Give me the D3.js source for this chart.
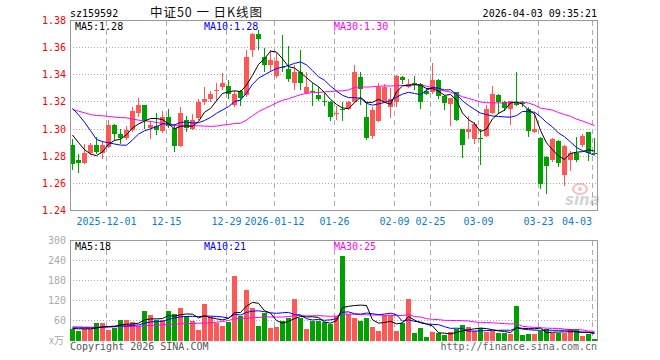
<!DOCTYPE html>
<html><head><meta charset="utf-8">
<script src="https://cdn.jsdelivr.net/npm/d3@7/dist/d3.min.js"></script>
<style>body{margin:0;background:#fff}svg{display:block}</style>
</head><body><svg id="c" width="660" height="360"></svg>
<script>
// ---------- data ----------
const dates = [
"2025-11-21","2025-11-24","2025-11-25","2025-11-26","2025-11-27","2025-11-28",
"2025-12-01","2025-12-02","2025-12-03","2025-12-04","2025-12-05",
"2025-12-08","2025-12-09","2025-12-10","2025-12-11","2025-12-12",
"2025-12-15","2025-12-16","2025-12-17","2025-12-18","2025-12-19",
"2025-12-22","2025-12-23","2025-12-24","2025-12-25","2025-12-26",
"2025-12-29","2025-12-30","2025-12-31",
"2026-01-05","2026-01-06","2026-01-07","2026-01-08","2026-01-09",
"2026-01-12","2026-01-13","2026-01-14","2026-01-15","2026-01-16",
"2026-01-19","2026-01-20","2026-01-21","2026-01-22","2026-01-23",
"2026-01-26","2026-01-27","2026-01-28","2026-01-29","2026-01-30",
"2026-02-02","2026-02-03","2026-02-04","2026-02-05","2026-02-06",
"2026-02-09","2026-02-10","2026-02-11","2026-02-12","2026-02-13",
"2026-02-24","2026-02-25","2026-02-26","2026-02-27",
"2026-03-02","2026-03-03","2026-03-04","2026-03-05","2026-03-06",
"2026-03-09","2026-03-10","2026-03-11","2026-03-12","2026-03-13",
"2026-03-16","2026-03-17","2026-03-18","2026-03-19","2026-03-20",
"2026-03-23","2026-03-24","2026-03-25","2026-03-26","2026-03-27",
"2026-03-30","2026-03-31","2026-04-01","2026-04-02","2026-04-03"];

const open = [1.288,1.277,1.275,1.282,1.288,1.282,1.287,1.303,1.296,1.293,1.299,1.312,1.318,1.301,1.302,1.299,1.309,1.301,1.288,1.307,1.300,1.308,1.320,1.322,1.328,1.331,1.332,1.318,1.328,
1.325,1.358,1.370,1.353,1.347,1.339,1.346,1.344,1.334,1.342,1.3265,1.328,1.325,1.321,1.320,1.312,1.3145,1.315,1.320,1.338,
1.309,1.295,1.306,1.320,1.316,1.320,1.338,1.331,1.3338,1.333,1.328,1.327,1.336,1.324,1.318,1.327,1.2997,1.298,1.2928,
1.2935,1.2948,1.3119,1.3251,1.3197,1.3143,1.3197,1.3197,1.3148,1.2977,1.2935,1.2791,1.2774,1.2913,1.2659,1.2774,1.2823,1.2879,1.2977,1.2825];
const high = [1.293,1.282,1.289,1.290,1.294,1.291,1.307,1.304,1.300,1.302,1.316,1.323,1.318,1.306,1.312,1.313,1.315,1.304,1.316,1.310,1.311,1.322,1.331,1.328,1.334,1.341,1.336,1.328,1.329,
1.358,1.371,1.373,1.360,1.358,1.356,1.369,1.361,1.347,1.358,1.342,1.334,1.331,1.3265,1.321,1.317,1.320,1.321,1.347,1.342,
1.320,1.316,1.334,1.333,1.330,1.340,1.339,1.337,1.339,1.334,1.330,1.349,1.337,1.325,1.323,1.3275,1.300,1.310,1.305,
1.300,1.318,1.332,1.326,1.321,1.321,1.3417,1.321,1.316,1.3124,1.294,1.280,1.2935,1.292,1.288,1.284,1.294,1.2965,1.298,1.2935];
const low = [1.270,1.268,1.274,1.281,1.282,1.278,1.286,1.291,1.289,1.292,1.298,1.309,1.300,1.293,1.296,1.297,1.301,1.283,1.287,1.298,1.299,1.307,1.318,1.320,1.321,1.329,1.322,1.316,1.317,
1.324,1.353,1.358,1.342,1.342,1.338,1.342,1.335,1.329,1.329,1.326,1.317,1.321,1.317,1.306,1.307,1.306,1.314,1.319,1.318,
1.292,1.293,1.305,1.319,1.308,1.316,1.333,1.330,1.329,1.315,1.325,1.326,1.322,1.314,1.3026,1.306,1.2786,1.293,1.289,
1.2733,1.294,1.311,1.311,1.313,1.3033,1.3168,1.316,1.294,1.297,1.2561,1.252,1.276,1.272,1.2581,1.269,1.276,1.287,1.2762,1.2806];
const close = [1.274,1.275,1.282,1.288,1.283,1.288,1.303,1.296,1.293,1.299,1.313,1.318,1.306,1.303,1.299,1.309,1.302,1.288,1.312,1.301,1.307,1.320,1.322,1.326,1.329,1.334,1.326,1.326,1.323,
1.353,1.370,1.366,1.347,1.351,1.350,1.345,1.337,1.342,1.334,1.331,1.327,1.322,1.3205,1.309,1.3122,1.314,1.320,1.342,1.329,
1.2935,1.314,1.331,1.331,1.322,1.339,1.336,1.3335,1.3336,1.320,1.326,1.336,1.324,1.3185,1.3226,1.306,1.2879,1.300,1.3038,
1.2933,1.3148,1.3258,1.3202,1.3153,1.3204,1.3178,1.318,1.2989,1.3001,1.2598,1.2725,1.2928,1.2754,1.2874,1.2823,1.2769,1.2948,1.2825,1.2823];

const volume = [36,29,36,36,52,52,32,38,61,61,56,43,88,76,61,61,88,79,97,73,59,32,109,71,54,43,56,193,74,
151,97,43,82,37,40,58,69,124,69,34,60,59,56,51,73,254,79,67,58,
67,40,29,76,76,29,54,124,22,37,10,25,22,16,25,34,46,40,30,
37,25,30,22,22,19,103,16,19,19,30,34,22,22,22,31,36,13,19,4];

// moving-average values at the left edge (window starts before the visible data)
const ma5Seed  = [1.2956,1.2900,1.2848,1.2816];
const ma10Seed = [1.3152,1.3105,1.3051,1.2988,1.2924,1.2907,1.2900,1.2890,1.2882];
const ma30Seed = [1.3144,1.3132,1.3120,1.3107,1.3100,1.3098,1.3093,1.3088,1.3085,1.3083,1.3073,1.3066,1.3061,1.3056,1.3049,1.3041,1.3032,1.3024,1.3024,1.3024,1.3024,1.3024,1.3022,1.3020,1.3022,1.3029,1.3034,1.3041,1.3043];
const volMa5Seed  = [36,35,35,35];
const volMa10Seed = [38,38,38,38,38,40,42,43,44];
const volMa30Seed = [41,41,40,40,40,40,40,41,41,42,42,43,44,45,46,47,48,49,50,51,51,52,52,53,55,57,60,65,67];

const priceTicks = [1.24,1.26,1.28,1.30,1.32,1.34,1.36,1.38];
const volTicks = [60,120,180,240,300];
const xTickDates  = ["2025-12-01","2025-12-15","2025-12-29","2026-01-12","2026-01-26","2026-02-09","2026-02-25","2026-03-09","2026-03-23","2026-04-03"];
const xTickLabels = ["2025-12-01","12-15","12-29","2026-01-12","01-26","02-09","02-25","03-09","03-23","04-03"];

const header = {code:"sz159592", title:"中证50 一 日K线图", time:"2026-04-03 09:35:21"};
const priceMaText = ["MA5:1.28","MA10:1.28","MA30:1.30"];
const volMaText = ["MA5:18","MA10:21","MA30:25"];

// ---------- drawing ----------
const svg = d3.select("#c");
const MONO = "'DejaVu Sans Mono', 'Liberation Mono', monospace";
const UP = "#ff5656", DOWN = "#00a000", FRAME = "#999", GRID = "#aaa";
const L = 70, R = 597;
const x = d3.scaleBand().domain(dates).range([L, L + 6 * dates.length]).paddingInner(0).paddingOuter(0);
const y = d3.scaleLinear().domain([1.24, 1.38]).range([210.5, 20.5]);
const yv = d3.scaleLinear().domain([0, 300]).range([340.5, 240.5]);
const mid = d => x(d) + 2.5;

function ma(arr, n, seed) {
  return arr.map((v, i) => i < n - 1 ? seed[i] : d3.mean(arr.slice(i - n + 1, i + 1)));
}

// header
svg.append("text").attr("x", 70).attr("y", 16.5).attr("font-family", MONO).attr("font-size", 10).attr("fill", "#000").text(header.code);
svg.append("text").attr("x", 150).attr("y", 17).attr("font-family", "'Noto Sans CJK SC', sans-serif").attr("font-size", 12.5)
  .attr("textLength", 112).attr("lengthAdjust", "spacing").attr("fill", "#111").text(header.title);
svg.append("text").attr("x", 597).attr("y", 16.5).attr("text-anchor", "end").attr("font-family", MONO).attr("font-size", 10).attr("fill", "#000").text(header.time);

function panel(top, bottom, yScale, gridTicks) {
  const g = svg.append("g");
  g.selectAll(".hg").data(gridTicks).enter().append("line")
    .attr("x1", L).attr("x2", R).attr("y1", d => Math.round(yScale(d) - 0.5) + 0.5).attr("y2", d => Math.round(yScale(d) - 0.5) + 0.5)
    .attr("stroke", GRID).attr("stroke-dasharray", "1,2").attr("shape-rendering", "crispEdges");
  g.selectAll(".vg").data(xTickDates).enter().append("line")
    .attr("x1", d => x(d) + 0.5).attr("x2", d => x(d) + 0.5).attr("y1", top).attr("y2", bottom)
    .attr("stroke", GRID).attr("stroke-dasharray", "5,4").attr("shape-rendering", "crispEdges");
  return g;
}

// price panel
panel(20.5, 210.5, y, priceTicks.slice(1, -1));
svg.append("path").attr("d", `M${L + 0.5},210.5V20.5H${R + 0.5}V210.5H${L + 0.5}`).attr("fill", "none").attr("stroke", FRAME).attr("shape-rendering", "crispEdges");
svg.selectAll(".pl").data(priceTicks).enter().append("text")
  .attr("x", 66).attr("y", d => y(d) + 3.5).attr("text-anchor", "end")
  .attr("font-family", MONO).attr("font-size", 10).attr("fill", "#f00").text(d => d.toFixed(2));
svg.selectAll(".xl").data(xTickDates).enter().append("text")
  .attr("x", (d, i) => i === xTickDates.length - 1 ? x(d) : x(d) + 0.5)
  .attr("text-anchor", (d, i) => i === xTickDates.length - 1 ? "end" : "middle")
  .attr("y", 224.5).attr("font-family", MONO).attr("font-size", 10).attr("fill", "#0a80c8")
  .text((d, i) => xTickLabels[i]);

// sina watermark
const wm = svg.append("g").attr("opacity", 0.4);
wm.append("ellipse").attr("cx", 580).attr("cy", 189).attr("rx", 7).attr("ry", 5).attr("fill", "none").attr("stroke", "#f06060").attr("stroke-width", 2);
wm.append("circle").attr("cx", 580).attr("cy", 189).attr("r", 2).attr("fill", "#f06060");
wm.append("text").attr("x", 565).attr("y", 205).attr("font-family", "'DejaVu Sans', sans-serif").attr("font-style", "italic").attr("font-weight", "bold")
  .attr("font-size", 15).attr("fill", "#999").text("sina");

svg.append("clipPath").attr("id", "cp").append("rect").attr("x", L + 1).attr("y", 21).attr("width", R - L - 1).attr("height", 189);
const cg = svg.append("g").attr("clip-path", "url(#cp)");

const cdata = dates.map((d, i) => ({d, o: open[i], h: high[i], l: low[i], c: close[i]}));
cg.selectAll(".wick").data(cdata).enter().append("line")
  .attr("x1", d => mid(d.d)).attr("x2", d => mid(d.d)).attr("y1", d => y(d.h)).attr("y2", d => y(d.l))
  .attr("stroke", d => d.c >= d.o ? UP : DOWN).attr("shape-rendering", "crispEdges");
cg.selectAll(".body").data(cdata).enter().append("rect")
  .attr("x", d => x(d.d)).attr("width", 5)
  .attr("y", d => Math.round(y(Math.max(d.o, d.c))))
  .attr("height", d => Math.max(1, Math.round(y(Math.min(d.o, d.c)) - y(Math.max(d.o, d.c)))))
  .attr("fill", d => d.c >= d.o ? UP : DOWN).attr("shape-rendering", "crispEdges");

const lineP = d3.line().x((v, i) => mid(dates[i])).y(v => y(v));
[[ma(close, 30, ma30Seed), "#ff00ff"], [ma(close, 10, ma10Seed), "#0000ff"], [ma(close, 5, ma5Seed), "#000"]].forEach(([s, col]) => {
  cg.append("path").attr("d", lineP(s)).attr("fill", "none").attr("stroke", col).attr("stroke-width", 1);
});
const maCols = ["#000", "#0000ff", "#ff00ff"];
const maX = [75, 204, 334];
priceMaText.forEach((t, i) => svg.append("text").attr("x", maX[i]).attr("y", 29.5).attr("font-family", MONO).attr("font-size", 10).attr("fill", maCols[i]).text(t));

// volume panel
panel(240.5, 340.5, yv, volTicks.slice(0, -1));
svg.append("path").attr("d", `M${L + 0.5},340.5V240.5H${R + 0.5}V340.5`).attr("fill", "none").attr("stroke", FRAME).attr("shape-rendering", "crispEdges");
svg.selectAll(".vl").data(volTicks).enter().append("text")
  .attr("x", 66).attr("y", d => yv(d) + 3.5).attr("text-anchor", "end")
  .attr("font-family", MONO).attr("font-size", 10).attr("fill", "#aaa").text(d => d);
svg.append("text").attr("x", 49).attr("y", 344).attr("font-family", "'Noto Sans CJK SC', serif").attr("font-size", 10).attr("fill", "#aaa").text("x万");

svg.selectAll(".vb").data(cdata).enter().append("rect")
  .attr("x", d => x(d.d)).attr("width", 5)
  .attr("y", (d, i) => Math.round(yv(volume[i])))
  .attr("height", (d, i) => Math.max(1, Math.round(yv(0)) - Math.round(yv(volume[i]))))
  .attr("fill", d => d.c >= d.o ? UP : DOWN).attr("shape-rendering", "crispEdges");
const lineV = d3.line().x((v, i) => mid(dates[i])).y(v => yv(v));
[[ma(volume, 30, volMa30Seed), "#ff00ff"], [ma(volume, 10, volMa10Seed), "#0000ff"], [ma(volume, 5, volMa5Seed), "#000"]].forEach(([s, col]) => {
  svg.append("path").attr("d", lineV(s)).attr("fill", "none").attr("stroke", col).attr("stroke-width", 1);
});
volMaText.forEach((t, i) => svg.append("text").attr("x", maX[i]).attr("y", 250).attr("font-family", MONO).attr("font-size", 10).attr("fill", maCols[i]).text(t));

// footer
svg.append("text").attr("x", 70).attr("y", 349.5).attr("font-family", MONO).attr("font-size", 10).attr("fill", "#555").text("Copyright 2026 SINA.COM");
svg.append("text").attr("x", 597).attr("y", 349.5).attr("text-anchor", "end").attr("font-family", MONO).attr("font-size", 10).attr("fill", "#666").text("http://finance.sina.com.cn");
</script></body></html>
